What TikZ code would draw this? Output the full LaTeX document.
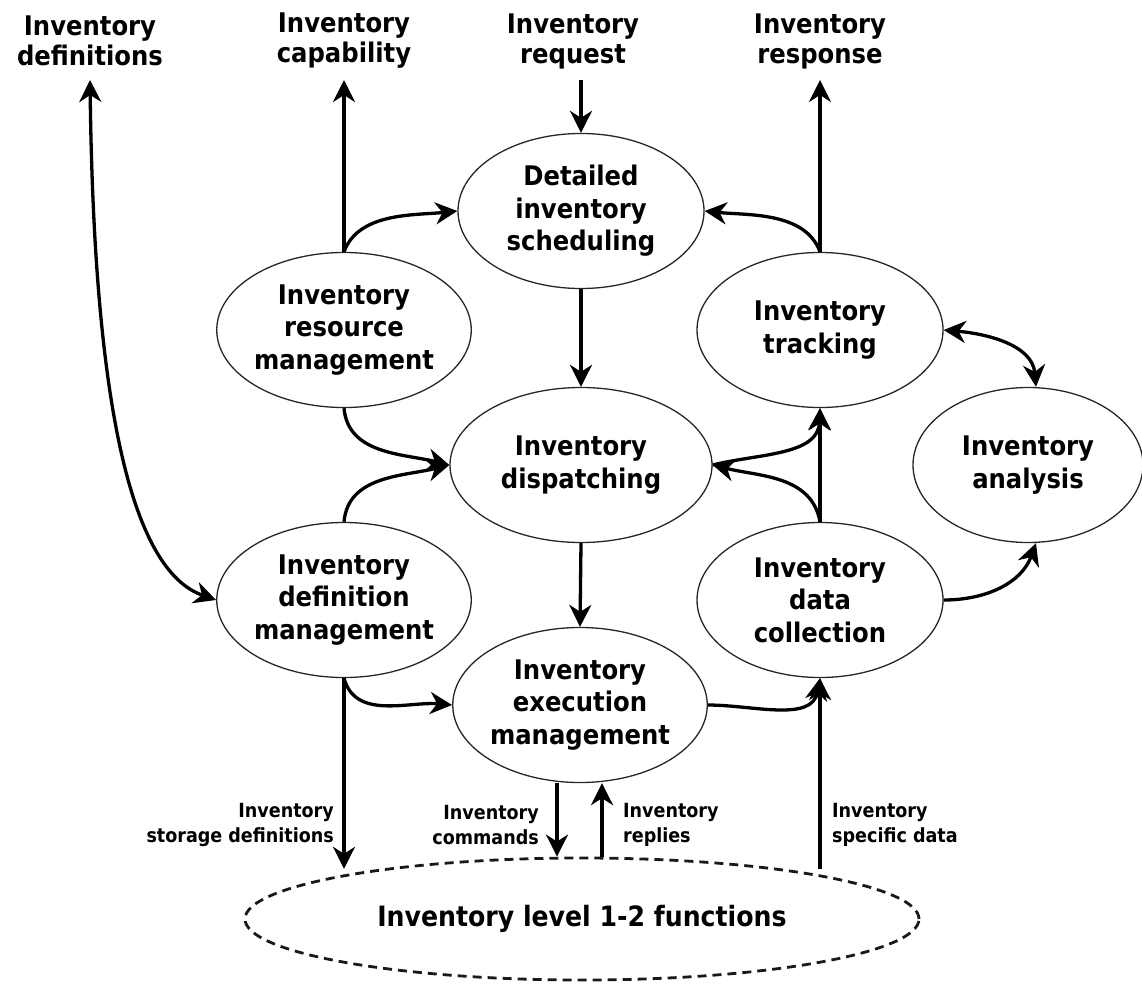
\documentclass[tikz,border=0pt]{standalone}
\usepackage{fontspec}
\usetikzlibrary{shapes.geometric,arrows.meta}
\newfontfamily\nodefontfam{DejaVu Sans Condensed}
\newcommand\mainlblfont{\nodefontfam\bfseries\fontsize{27}{32.5}\selectfont}
\newcommand\toplblfont{\nodefontfam\bfseries\fontsize{27}{30}\selectfont}
\newcommand\smlfont{\nodefontfam\bfseries\fontsize{19.5}{25}\selectfont}
\newcommand\bigfunfont{\nodefontfam\bfseries\fontsize{28}{32}\selectfont}
\tikzset{
  proc/.style={ellipse, draw=black!85, line width=1.3pt, minimum width=246pt,
    minimum height=155pt, inner sep=0pt, align=center, font=\mainlblfont},
  toplbl/.style={align=center, font=\toplblfont, inner sep=0pt},
  smalllbl/.style={font=\smlfont, inner sep=0pt},
  flow/.style={line width=3.3pt, -{Stealth[length=22pt,width=22pt,inset=7pt]}},
  flowboth/.style={line width=3.3pt, {Stealth[length=22pt,width=22pt,inset=7pt]}-{Stealth[length=22pt,width=22pt,inset=7pt]}},
}
\begin{document}
\begin{tikzpicture}[x=1pt,y=1pt]
\useasboundingbox (0,0) rectangle (1142,-985);

% top labels
\node[toplbl] (tdefs) at (90,-41) {Inventory\\definitions};
\node[toplbl] (tcap) at (344,-41) {Inventory\\capability};
\node[toplbl] (treq) at (573,-41) {Inventory\\request};
\node[toplbl] (tresp) at (820,-41) {Inventory\\response};
\coordinate (defsTip) at (90,-80);
\coordinate (capTip) at (344,-80);
\coordinate (reqStart) at (581,-80);
\coordinate (respTip) at (820,-80);

% process ellipses
\node[proc] (sched) at (581,-211) {Detailed\\inventory\\scheduling};
\node[proc] (res) at (344,-330) {Inventory\\resource\\management};
\node[proc] (track) at (820,-330) {Inventory\\tracking};
\node[proc, minimum width=262pt] (disp) at (581,-465) {Inventory\\dispatching};
\node[proc, minimum width=230pt] (anal) at (1028,-465) {Inventory\\analysis};
\node[proc] (defm) at (344,-600) {Inventory\\definition\\management};
\node[proc] (dc) at (820,-600) {Inventory\\data\\collection};
\node[proc] (exec) at (580,-705) {Inventory\\execution\\management};
\node[ellipse, draw=black!90, line width=2.8pt, dash pattern=on 9pt off 6pt,
  minimum width=674pt, minimum height=122pt, inner sep=0pt, font=\bigfunfont]
  (l12) at (582,-919) {Inventory level 1-2 functions};

% connectors
\draw[flow] (res.north) -- (capTip);
\draw[flow] (res.north) to[out=70,in=186,looseness=0.9] (sched.west);
\draw[flow] (reqStart) -- (sched.north);
\draw[flow] (track.north) -- (respTip);
\draw[flow] (track.north) to[out=110,in=-6,looseness=0.9] (sched.east);
\draw[flow] (sched.south) -- (disp.north);
\draw[flow] (res.south) to[out=-85,in=166] (disp.west);
\draw[flow] (defm.north) to[out=85,in=194] (disp.west);
\draw[flow] (dc.north) to[out=100,in=-14] (disp.east);
\draw[flow] (disp.east) to[out=14,in=-92] (track.south);
\draw[flow] (dc.north) -- (track.south);
\draw[flowboth] (track.east) to[out=-5,in=95] ([xshift=8pt]anal.north);
\draw[flow] (dc.east) to[out=0,in=-110] ([xshift=8pt]anal.south);
\draw[flow] (disp.south) -- (exec.north);
\draw[flow] (defm.south) to[out=-75,in=175] (exec.west);
\draw[flow] (exec.east) to[out=0,in=-100] (dc.south);
\draw[flowboth] (defsTip) .. controls (94,-400) and (130,-570) .. (defm.west);

\draw[flow] (defm.south) -- (defm.south |- l12.166);
\draw[flow] ([xshift=-23pt]exec.south) -- ([xshift=-23pt]exec.south |- l12.north);
\draw[flow] ([xshift=22pt]exec.south |- l12.north) -- ([xshift=22pt]exec.south);
\draw[flow] (dc.south |- l12.14) -- (dc.south);

% small labels
\node[smalllbl, align=right, anchor=east] (lstor) at (334,-825) {Inventory\\storage definitions};
\node[smalllbl, align=right, anchor=east] (lcmd) at (539,-825) {Inventory\\commands};
\node[smalllbl, align=left, anchor=west] (lrep) at (623,-825) {Inventory\\replies};
\node[smalllbl, align=left, anchor=west] (lspec) at (832,-825) {Inventory\\specific data};
\end{tikzpicture}
\end{document}
